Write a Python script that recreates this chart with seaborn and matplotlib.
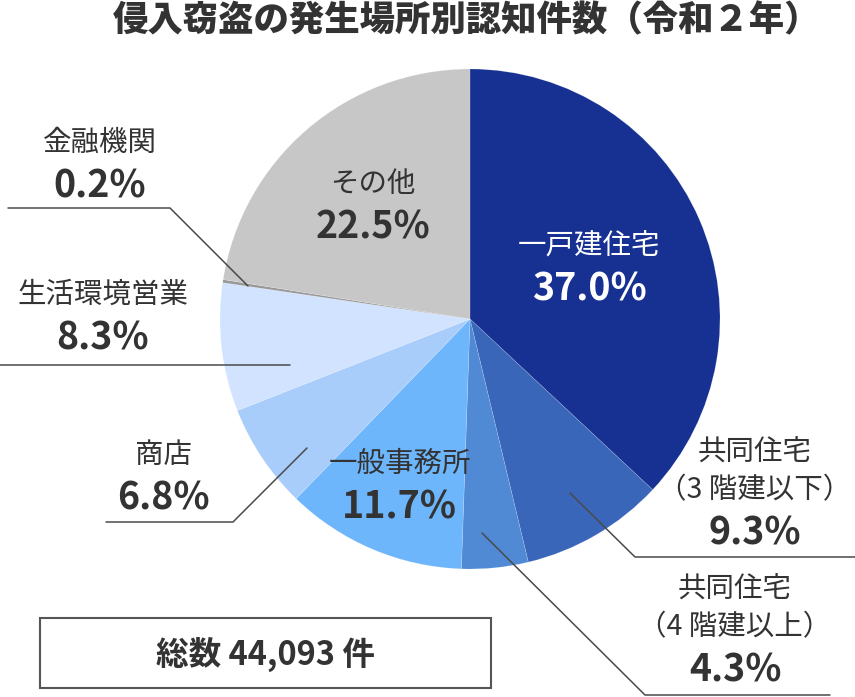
import matplotlib
matplotlib.use("Agg")
import numpy as np
import matplotlib.pyplot as plt
import seaborn as sns
from matplotlib.patches import Rectangle

# data
categories = ["一戸建住宅", "共同住宅\n（3 階建以下）", "共同住宅\n（4 階建以上）", "一般事務所",
              "商店", "生活環境営業", "金融機関", "その他"]
shares = [37.0, 9.3, 4.3, 11.7, 6.8, 8.3, 0.2, 22.5]
colors = ["#163192", "#3a66b9", "#508ad5", "#6db6fc", "#a8cdfb", "#d1e3fe", "#999999", "#c7c7c7"]
total_count = 44093
title = "侵入窃盗の発生場所別認知件数（令和２年）"

sns.set_theme(style="white")
plt.rcParams['font.family'] = ['Noto Sans CJK JP', 'DejaVu Sans']

W, H = 855, 697
fig = plt.figure(figsize=(W / 100, H / 100), dpi=100)
ax = fig.add_axes([0, 0, 1, 1])

cx, cy, R = 470, 319, 250
# y axis is flipped, so start at -90 and go "counterclock" to look clockwise from the top
wedges, _ = ax.pie(shares, colors=colors, startangle=-90, counterclock=True,
                   center=(cx, cy), radius=R, frame=True,
                   wedgeprops=dict(linewidth=0.4, edgecolor="#ffffff40"))
ax.set_xlim(0, W)
ax.set_ylim(H, 0)  # pixel coords, y down
ax.axis("off")

dark = "#333333"
name_fs = 20.5
pct_fs = 27

# labels inside the slices: (slice index, radius fraction, colour)
inside = [(0, 0.52, "white"), (7, 0.60, dark), (3, 0.72, dark)]
for i, rf, col in inside:
    w = wedges[i]
    th = np.deg2rad((w.theta1 + w.theta2) / 2)
    x = cx + rf * R * np.cos(th)
    y = cy + rf * R * np.sin(th)
    ax.text(x, y - 21, categories[i], ha="center", va="center", fontsize=name_fs, color=col)
    ax.text(x, y + 22, f"{shares[i]:.1f}%", ha="center", va="center", fontsize=pct_fs,
            fontweight="bold", color=col)

# labels outside: index, text x, first line y, leader path
outside = [
    (6, 100, 143, [(8, 208), (170, 208), (248, 286)]),
    (5, 103, 295, [(0, 365), (290, 365)]),
    (4, 163, 455, [(106, 522), (233, 522), (307, 448)]),
    (1, 755, 453, [(570, 493), (635, 557), (855, 557)]),
    (2, 735, 590, [(482, 533), (645, 695), (830, 695)]),
]
for i, x, y, path in outside:
    lines = categories[i].split("\n")
    for k, ln in enumerate(lines):
        ax.text(x, y + 37 * k, ln, ha="center", va="center", fontsize=name_fs, color=dark)
    ax.text(x, y + 37 * (len(lines) - 1) + 43, f"{shares[i]:.1f}%", ha="center", va="center",
            fontsize=pct_fs, fontweight="bold", color=dark)
    px, py = zip(*path)
    ax.plot(px, py, color="#4a4a4a", lw=1.1, zorder=5)

ax.text(467, 20, title, ha="center", va="center", fontsize=25.5, fontweight="heavy", color=dark)

ax.add_patch(Rectangle((40, 618), 451, 70, fill=False, edgecolor="#555555", lw=1.5))
ax.text(265, 654, f"総数 {total_count:,} 件", ha="center", va="center", fontsize=23.5,
        fontweight="bold", color=dark)

fig.savefig("out.png", dpi=100)
